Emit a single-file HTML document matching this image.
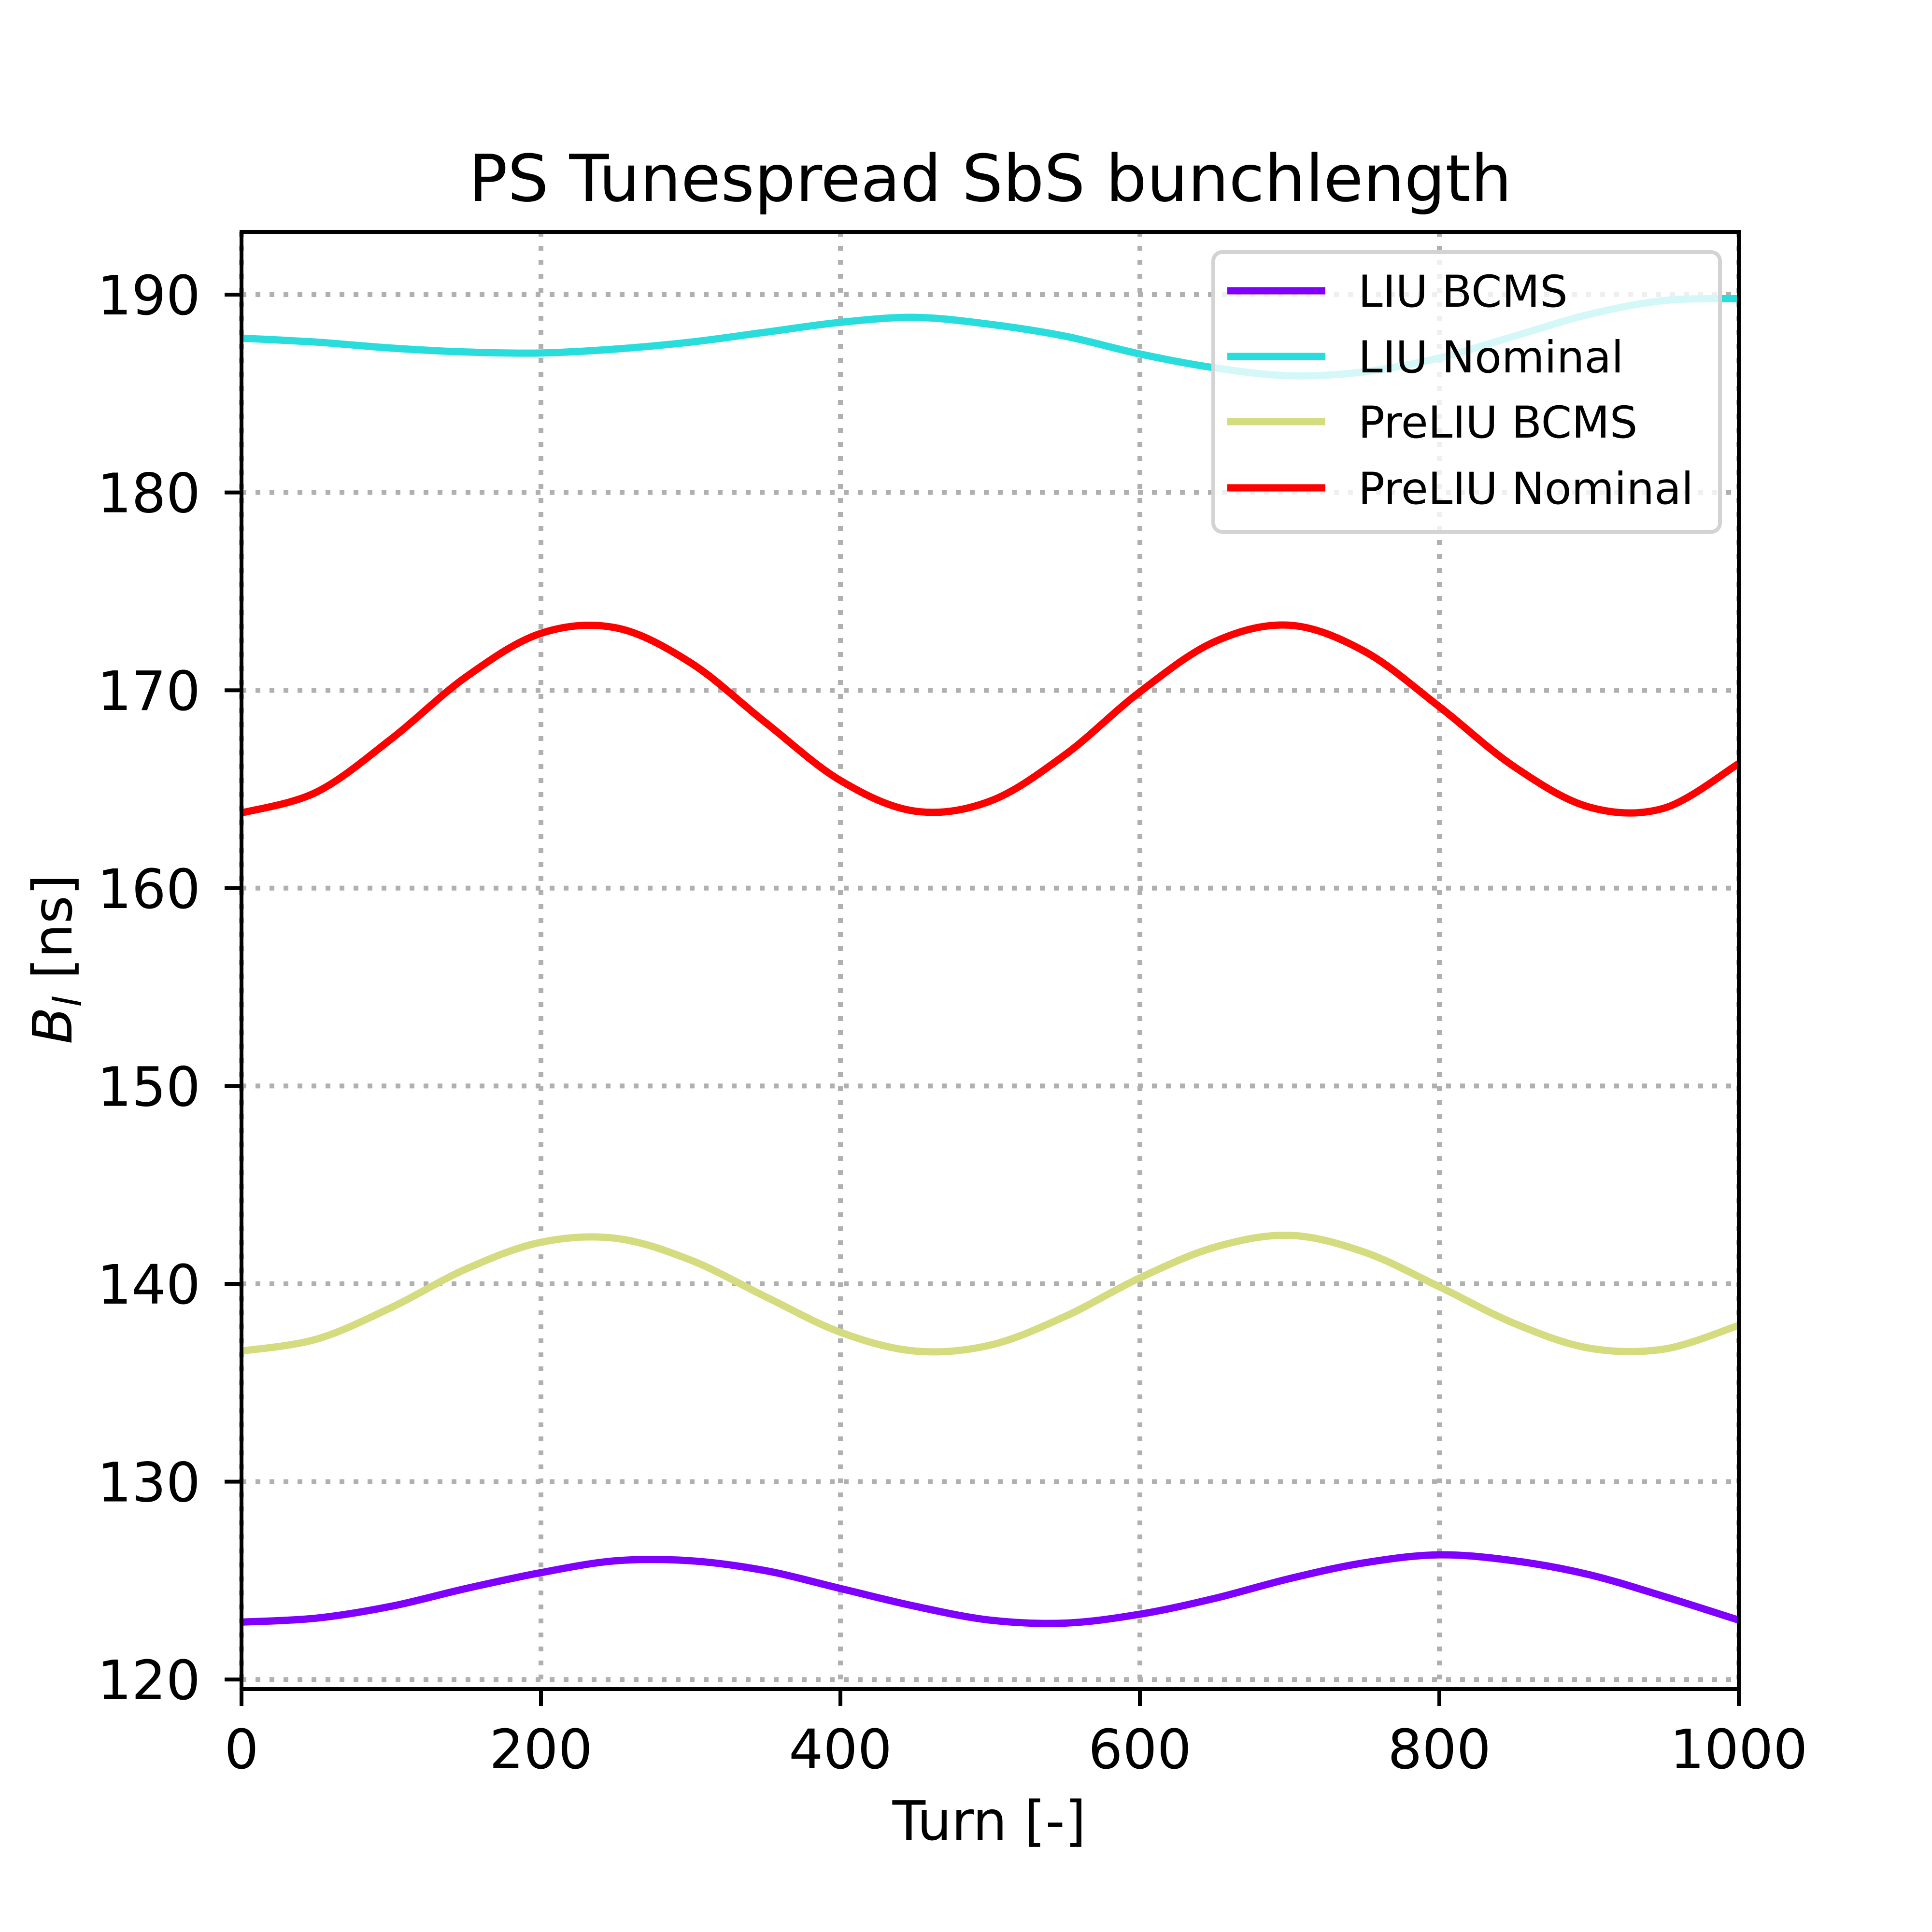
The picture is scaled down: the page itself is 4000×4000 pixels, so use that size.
<!DOCTYPE html>
<html><head><meta charset="utf-8"><style>
html,body{margin:0;padding:0;background:#fff;}
svg{display:block;font-family:"DejaVu Sans","Liberation Sans",sans-serif;}
</style></head><body>
<svg id="chart" width="4000" height="4000" viewBox="0 0 4000 4000" xmlns="http://www.w3.org/2000/svg">
<rect width="4000" height="4000" fill="#fff"/>
<text x="2050" y="416" font-size="134" text-anchor="middle">PS Tunespread SbS bunchlength</text>
<g id="grid"></g>
<g id="series"></g>
<rect x="500" y="480" width="3100" height="3017" fill="none" stroke="#000" stroke-width="8"/>
<g id="ticks"></g>
<text x="2048" y="3809" font-size="112" text-anchor="middle">Turn [-]</text>
<text transform="translate(148,1986) rotate(-90)" font-size="112" text-anchor="middle"><tspan font-style="italic">B</tspan><tspan font-style="italic" font-size="80" dy="20">l</tspan><tspan dy="-20"> [ns]</tspan></text>
<g id="legend"></g>
</svg>
<script>
const turns=[0,50,100,150,200,250,300,350,400,450,500,550,600,650,700,750,800,850,900,950,1000];
const liuBcms=[122.9,123.1,123.7,124.6,125.4,126.0,126.0,125.5,124.6,123.7,123.0,122.85,123.3,124.1,125.1,125.9,126.3,126.0,125.3,124.2,123.0];
const liuNominal=[187.8,187.6,187.3,187.1,187.05,187.25,187.6,188.1,188.6,188.85,188.5,187.9,187.0,186.3,185.9,186.1,186.8,187.9,189.0,189.7,189.8];
const preBcms=[136.6,137.2,138.8,140.75,142.1,142.3,141.2,139.35,137.55,136.6,136.9,138.35,140.3,141.85,142.45,141.6,139.85,138.0,136.75,136.7,137.9];
const preNominal=[163.8,164.85,167.54,170.68,172.88,173.16,171.39,168.37,165.44,163.89,164.4,166.74,169.92,172.46,173.29,171.97,169.17,166.14,164.1,164.04,166.3];
const xTicks=[0,200,400,600,800,1000];
const yTicks=[120,130,140,150,160,170,180,190];
const seriesNames=["LIU BCMS","LIU Nominal","PreLIU BCMS","PreLIU Nominal"];
const seriesColors=["#8000ff","#2adddd","#d4dc7f","#ff0000"];

const NS="http://www.w3.org/2000/svg";
const X0=500,X1=3600,Y0=480,Y1=3497;
function xs(v){return X0+(v-0)/(1000-0)*(X1-X0);}
function ys(v){return 610+(190-v)*40.96;}
function mk(tag,attrs,parent){const e=document.createElementNS(NS,tag);for(const k in attrs)e.setAttribute(k,attrs[k]);parent.appendChild(e);return e;}
const grid=document.getElementById('grid'),ticks=document.getElementById('ticks'),ser=document.getElementById('series'),leg=document.getElementById('legend');

xTicks.forEach(t=>{
  const x=xs(t);
  const g=mk('line',{x1:x,x2:x,y1:Y0,y2:Y1,stroke:'#b0b0b0','stroke-width':10,'stroke-dasharray':'10,19'},grid);
  
  
  const tk=mk('line',{x1:x,x2:x,y1:Y1,y2:Y1+35,stroke:'#000','stroke-width':8},ticks);
  
  
  const tl=mk('text',{x:x,y:3661,'font-size':112,'text-anchor':'middle'},ticks);
  tl.textContent=t;
  
  
});
yTicks.forEach(t=>{
  const y=ys(t);
  const g=mk('line',{x1:X0,x2:X1,y1:y,y2:y,stroke:'#b0b0b0','stroke-width':10,'stroke-dasharray':'10,19'},grid);
  
  
  const tk=mk('line',{x1:X0-35,x2:X0,y1:y,y2:y,stroke:'#000','stroke-width':8},ticks);
  
  
  const tl=mk('text',{x:415,y:y+41,'font-size':112,'text-anchor':'end'},ticks);
  tl.textContent=t;
  
  
});

function pathFor(vals){
  const p=turns.map((t,i)=>[xs(t),ys(vals[i])]);
  let d='M'+p[0][0]+','+p[0][1];
  for(let i=0;i<p.length-1;i++){
    const a=p[Math.max(0,i-1)],b=p[i],c=p[i+1],e=p[Math.min(p.length-1,i+2)];
    const c1x=b[0]+(c[0]-a[0])/6,c1y=b[1]+(c[1]-a[1])/6;
    const c2x=c[0]-(e[0]-b[0])/6,c2y=c[1]-(e[1]-b[1])/6;
    d+=' C'+c1x+','+c1y+' '+c2x+','+c2y+' '+c[0]+','+c[1];
  }
  return d;
}
const allSeries=[liuBcms,liuNominal,preBcms,preNominal];
const seriesKeys=['liu-bcms-line','liu-nominal-line','preliu-bcms-line','preliu-nominal-line'];
allSeries.forEach((vals,i)=>{
  const pth=mk('path',{d:pathFor(vals),fill:'none',stroke:seriesColors[i],'stroke-width':15,'stroke-linejoin':'round'},ser);
  
  
});

const box=mk('rect',{x:2512,y:522,width:1049,height:579,rx:18,fill:'#fff','fill-opacity':0.8,stroke:'#d3d3d3','stroke-width':8},leg);


const ly=[602,738,873,1010];
seriesNames.forEach((n,i)=>{
  const l=mk('line',{x1:2541,x2:2744,y1:ly[i],y2:ly[i],stroke:seriesColors[i],'stroke-width':15},leg);
  
  
  const t=mk('text',{x:2812,y:ly[i]+33,'font-size':91},leg);
  t.textContent=n;
  
  
});
</script>
</body></html>
